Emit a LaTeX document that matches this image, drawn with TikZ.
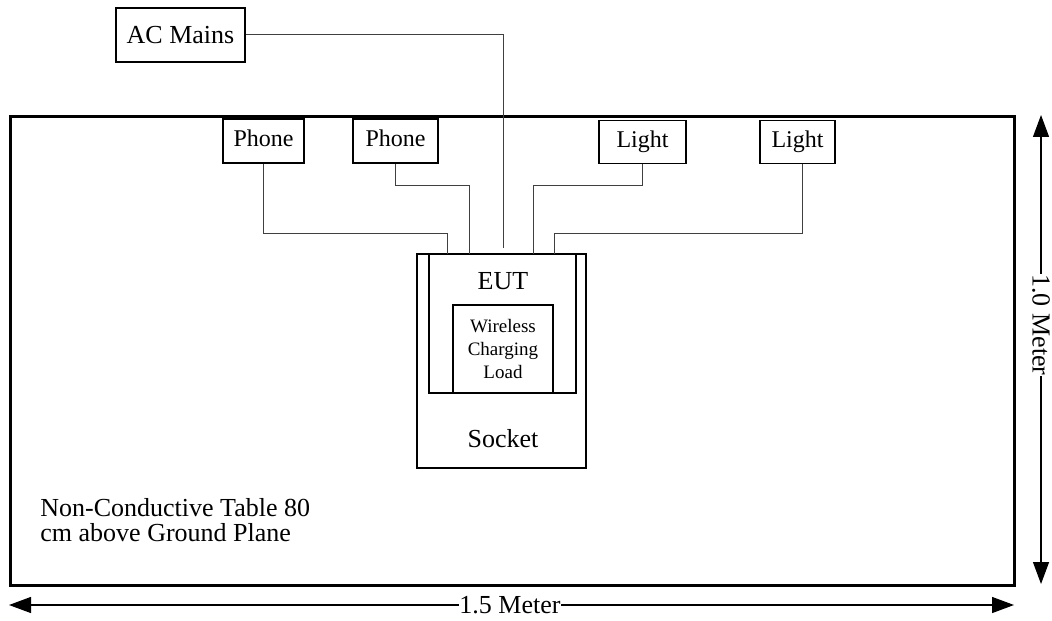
\documentclass[tikz,border=0pt]{standalone}
\usepackage{fontspec}
\setmainfont{Liberation Serif}
\usetikzlibrary{positioning,arrows.meta}

\tikzset{
  box/.style={draw, line width=0.75pt, inner sep=0pt, font=\fontsize{12}{14}\selectfont},
  loadbox/.style={box, text height=8.5pt, text depth=2.5pt},
  wire/.style={draw=black!75, line width=0.5pt},
  dimline/.style={line width=0.6pt, {Triangle[length=11pt,width=8pt]}-{Triangle[length=11pt,width=8pt]}},
  lbl/.style={inner sep=1pt, font=\fontsize{13}{15}\selectfont}
}

\begin{document}
\begin{tikzpicture}[x=0.5pt, y=-0.5pt]
  \useasboundingbox (0,0) rectangle (1052,620);

  % table
  \draw[line width=1.5pt] (10,117) rectangle (1014,585);
  \node[lbl, anchor=west, align=left, font=\fontsize{13}{12.5}\selectfont] (note) at (38,520)
    {Non-Conductive Table 80\\cm above Ground Plane};

  % mains and loads
  \node[box, font=\fontsize{13}{15}\selectfont, minimum width=64.5pt, minimum height=27pt] (mains) at (180.5,35) {AC Mains};
  \node[loadbox, minimum width=40.5pt, minimum height=22pt] (phone1) at (263.5,141) {Phone};
  \node[loadbox, minimum width=42.5pt, minimum height=22pt] (phone2) at (395.5,141) {Phone};
  \node[loadbox, minimum width=43.5pt, minimum height=21.5pt] (light1) at (642.5,142) {Light};
  \node[loadbox, minimum width=37.5pt, minimum height=21.5pt] (light2) at (797.5,142) {Light};

  % socket, EUT and load
  \node[box, minimum width=84.5pt, minimum height=107pt] (socket) at (501.5,361) {};
  \node[box, minimum width=73.5pt, minimum height=69.5pt] (eut) at (502.5,323.5) {};
  \node[box, minimum width=50pt, minimum height=44pt, align=center,
        font=\fontsize{9.5}{11.7}\selectfont] (load) at (503,349) {Wireless\\Charging\\Load};
  \node[lbl] (eutlbl) at (503,281) {EUT};
  \node[lbl] (socklbl) at (503,439) {Socket};

  % inputs on top of the socket
  \coordinate (in1) at (447,254);
  \coordinate (in2) at (469,254);
  \coordinate (in3) at (533,254);
  \coordinate (in4) at (554,254);
  \coordinate (acin) at (503,248);

  % cords
  \draw[wire] (mains.east) -| (acin);
  \draw[wire] (phone1.south) -- ++(0,70) -| (in1);
  \draw[wire] (phone2.south) -- ++(0,22) -| (in2);
  \draw[wire] (light1.south) -- ++(0,21) -| (in3);
  \draw[wire] ([xshift=2.5pt]light2.south) -- ++(0,69) -| (in4);

  % dimensions
  \coordinate (wl) at (9,605);
  \coordinate (wr) at (1014,605);
  \draw[dimline] (wl) -- (wr);
  \node[lbl, fill=white, inner sep=0pt] (wlbl) at (510,605) {1.5 Meter};
  \coordinate (ht) at (1041,115);
  \coordinate (hb) at (1041,584);
  \draw[dimline] (ht) -- (hb);
  \node[lbl, fill=white, inner sep=0pt, rotate=-90] (hlbl) at (1041,325) {1.0 Meter};
\end{tikzpicture}
\end{document}
